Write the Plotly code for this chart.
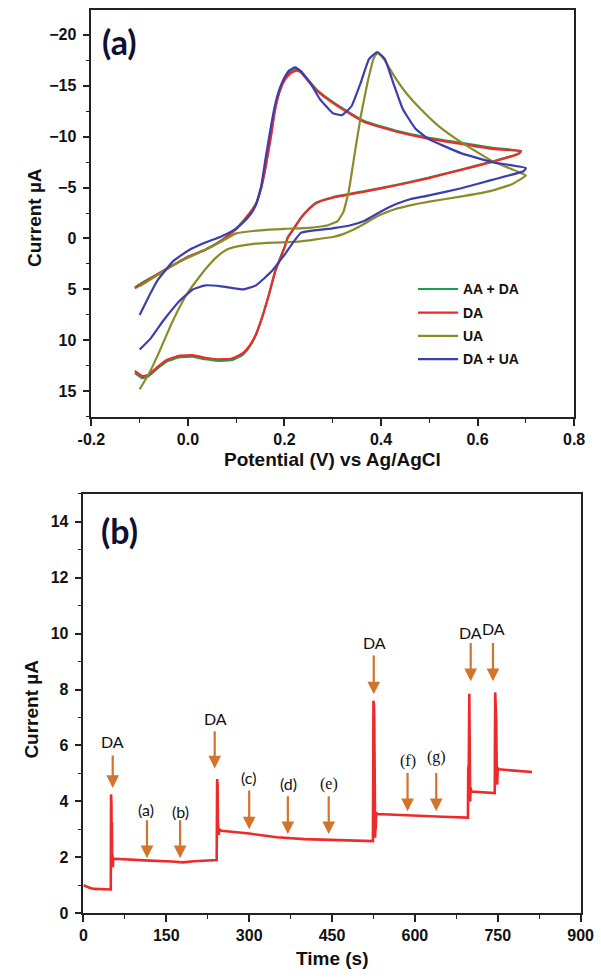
import plotly.graph_objects as go

# ---------------- Panel (a): cyclic voltammograms ----------------
aada_v = [-0.11, -0.09, -0.063, -0.03, 0.0, 0.036, 0.069, 0.10, 0.115, 0.13, 0.141, 0.152, 0.161, 0.172, 0.18, 0.19, 0.20, 0.21, 0.22, 0.228, 0.234, 0.25, 0.267, 0.30, 0.333, 0.366, 0.43, 0.497, 0.564, 0.63, 0.69,
          0.685, 0.63, 0.564, 0.497, 0.43, 0.366, 0.30, 0.267, 0.247, 0.234, 0.22, 0.207, 0.20, 0.19, 0.181, 0.168, 0.154, 0.141, 0.128, 0.115, 0.10, 0.089, 0.062, 0.036, 0.01, -0.017, -0.043, -0.063, -0.083, -0.095, -0.11]
aada_i = [4.8, 4.2, 3.5, 2.6, 1.8, 1.1, 0.2, -0.95, -1.75, -2.6, -3.4, -5.0, -7.1, -10.1, -12.6, -14.5, -15.7, -16.3, -16.6, -16.6, -16.4, -15.5, -14.6, -13.4, -12.4, -11.5, -10.6, -9.9, -9.4, -8.9, -8.6,
          -8.35, -7.55, -6.75, -5.95, -5.25, -4.65, -4.05, -3.55, -2.75, -2.05, -1.05, -0.15, 0.85, 2.05, 3.15, 5.45, 7.7, 9.45, 10.6, 11.35, 11.75, 11.95, 12.0, 11.85, 11.6, 11.65, 12.05, 12.75, 13.55, 13.7, 13.2]

da_v = [-0.11, -0.09, -0.063, -0.03, 0.0, 0.036, 0.069, 0.10, 0.115, 0.13, 0.141, 0.152, 0.161, 0.172, 0.18, 0.19, 0.20, 0.21, 0.22, 0.228, 0.234, 0.25, 0.267, 0.30, 0.333, 0.366, 0.43, 0.497, 0.564, 0.63, 0.69,
        0.685, 0.63, 0.564, 0.497, 0.43, 0.366, 0.30, 0.267, 0.247, 0.234, 0.22, 0.207, 0.20, 0.19, 0.181, 0.168, 0.154, 0.141, 0.128, 0.115, 0.10, 0.089, 0.062, 0.036, 0.01, -0.017, -0.043, -0.063, -0.083, -0.095, -0.11]
da_i = [4.9, 4.3, 3.5, 2.6, 1.8, 1.1, 0.25, -0.9, -1.7, -2.6, -3.4, -5.0, -7.0, -10.0, -12.5, -14.4, -15.5, -16.1, -16.4, -16.45, -16.3, -15.4, -14.5, -13.3, -12.3, -11.4, -10.5, -9.8, -9.3, -8.8, -8.55,
        -8.3, -7.5, -6.7, -5.9, -5.2, -4.6, -4.0, -3.5, -2.7, -2.0, -1.0, -0.1, 0.9, 2.1, 3.2, 5.5, 7.7, 9.4, 10.5, 11.2, 11.6, 11.8, 11.85, 11.7, 11.45, 11.5, 11.9, 12.6, 13.4, 13.5, 13.0]

ua_v = [-0.10, -0.063, -0.03, 0.0, 0.036, 0.069, 0.10, 0.15, 0.20, 0.25, 0.29, 0.31, 0.322, 0.333, 0.346, 0.358, 0.372, 0.385, 0.392, 0.40, 0.41, 0.425, 0.45, 0.48, 0.52, 0.564, 0.63, 0.70,
        0.695, 0.67, 0.63, 0.564, 0.497, 0.46, 0.43, 0.40, 0.38, 0.36, 0.34, 0.32, 0.30, 0.27, 0.23, 0.18, 0.14, 0.10, 0.08, 0.06, 0.04, 0.02, 0.0, -0.02, -0.04, -0.06, -0.08, -0.10]
ua_i = [4.7, 3.6, 2.6, 1.9, 1.1, 0.3, -0.5, -0.8, -0.95, -1.05, -1.3, -1.7, -2.6, -4.6, -8.5, -12.0, -15.3, -17.7, -18.2, -17.95, -17.3, -16.1, -14.4, -12.8, -11.0, -9.5, -7.6, -6.2,
        -6.0, -5.3, -4.7, -4.1, -3.6, -3.25, -2.9, -2.35, -1.85, -1.3, -0.8, -0.4, -0.15, 0.05, 0.3, 0.4, 0.5, 0.8, 1.1, 1.8, 2.8, 4.0, 5.3, 7.0, 9.0, 11.2, 13.2, 14.8]

daua_v = [-0.10, -0.08, -0.063, -0.03, 0.0, 0.036, 0.069, 0.10, 0.115, 0.13, 0.141, 0.152, 0.161, 0.172, 0.18, 0.19, 0.20, 0.21, 0.222, 0.234, 0.253, 0.273, 0.30, 0.319, 0.339, 0.358, 0.375, 0.392, 0.408, 0.425, 0.445, 0.471, 0.497, 0.564, 0.63, 0.70,
          0.695, 0.63, 0.564, 0.497, 0.46, 0.43, 0.40, 0.366, 0.333, 0.30, 0.234, 0.20, 0.174, 0.141, 0.115, 0.09, 0.069, 0.036, 0.01, -0.017, -0.05, -0.077, -0.10]
daua_i = [7.5, 5.6, 4.1, 2.2, 1.2, 0.4, -0.2, -1.0, -1.6, -2.4, -3.3, -5.2, -7.9, -11.0, -13.0, -14.7, -15.8, -16.5, -16.8, -16.4, -15.3, -13.7, -12.3, -12.1, -13.0, -15.3, -17.6, -18.3, -17.6, -15.3, -12.7, -10.8, -9.8, -8.4, -7.5, -6.9,
          -6.6, -5.75, -4.9, -4.2, -3.85, -3.35, -2.65, -1.75, -1.25, -1.0, -0.55, 1.6, 3.2, 4.6, 5.0, 4.85, 4.7, 4.6, 5.0, 6.1, 8.0, 9.8, 10.9]

cv_names = ["AA + DA", "DA", "UA", "DA + UA"]
cv_colors = ["#1a9e52", "#ee2a2a", "#8a8c2a", "#3b3fae"]

# ---------------- Panel (b): amperometric response ----------------
time_s = [0, 5, 12, 20, 30, 40, 49.5, 50, 50.7, 51, 51.5, 52, 52.6, 53.2, 54, 56, 80, 120, 160, 180, 200, 240,
          241.2, 242, 242.8, 243.4, 244, 245, 246, 250, 300, 350, 400, 450, 500, 524,
          525, 525.8, 526.4, 527, 527.5, 528, 528.5, 529, 530, 532, 560, 600, 650, 695,
          696, 696.5, 697.5, 698.5, 699.3, 700, 701, 702, 720, 744.5,
          745.3, 746.3, 747.2, 748, 749, 750, 752, 780, 812]
current_ua = [1.0, 0.95, 0.9, 0.87, 0.86, 0.85, 0.85, 4.25, 3.9, 2.6, 3.25, 1.75, 2.1, 1.65, 1.95, 1.95, 1.92, 1.88, 1.85, 1.82, 1.86, 1.88,
              1.9, 4.8, 4.6, 3.3, 3.1, 2.8, 3.0, 2.95, 2.85, 2.72, 2.65, 2.62, 2.6, 2.58,
              7.6, 7.5, 7.1, 6.0, 3.2, 2.7, 3.5, 3.0, 3.6, 3.55, 3.52, 3.48, 3.45, 3.42,
              3.42, 5.2, 5.3, 7.85, 6.2, 4.0, 4.5, 4.35, 4.32, 4.3,
              7.9, 7.2, 6.9, 5.3, 4.6, 5.2, 5.15, 5.1, 5.05]

# markers of additions: label, time of arrow, tail current, head current, label current
add_labels = ["DA", "(a)", "(b)", "DA", "(c)", "(d)", "(e)", "DA", "(f)", "(g)", "DA", "DA"]
add_time = [53, 115, 175, 237.6, 300, 370, 444, 525.5, 586.7, 638.6, 701, 741.3]
add_tail = [5.7, 3.38, 3.38, 6.56, 4.44, 4.24, 4.24, 9.27, 5.07, 5.07, 9.72, 9.72]
add_head = [4.48, 1.97, 1.97, 5.18, 3.0, 2.83, 2.83, 7.83, 3.65, 3.65, 8.3, 8.3]
add_text_y = [6.15, 3.72, 3.65, 6.98, 4.86, 4.65, 4.62, 9.7, 5.45, 5.6, 10.05, 10.2]
add_text_t = [53, 114, 176, 238.5, 298, 371, 444, 526, 586.7, 638.6, 701, 742.5]
serif_labels = ["(e)", "(f)", "(g)"]

W, H = 601, 978
def PX(px):
    return px / W
def PY(py):
    return 1 - py / H

fig = go.Figure()

cv_v = [aada_v, da_v, ua_v, daua_v]
cv_i = [aada_i, da_i, ua_i, daua_i]
for name, col, v, i in zip(cv_names, cv_colors, cv_v, cv_i):
    fig.add_trace(go.Scatter(x=v, y=i, mode="lines", name=name,
                             line=dict(color=col, width=2.2, shape="spline", smoothing=0.35),
                             xaxis="x", yaxis="y", showlegend=False))

fig.add_trace(go.Scatter(x=time_s, y=current_ua, mode="lines",
                         line=dict(color="#ee2a2a", width=2.6),
                         xaxis="x2", yaxis="y2", showlegend=False))

tickfont = dict(family="Liberation Sans, Arial", size=16, color="#111", weight="bold")
axis_common = dict(showline=True, linecolor="#222", linewidth=1.6, mirror=True,
                   ticks="outside", ticklen=7, tickwidth=1.5, tickcolor="#222",
                   showgrid=False, zeroline=False, tickfont=tickfont)

fig.update_layout(
    width=W, height=H, margin=dict(l=0, r=0, t=0, b=0),
    paper_bgcolor="white", plot_bgcolor="white",
    xaxis=dict(domain=[PX(81), PX(586.5)], range=[-0.2, 0.8], anchor="y",
               tickvals=[-0.2, 0.0, 0.2, 0.4, 0.6, 0.8], ticktext=["-0.2", "0.0", "0.2", "0.4", "0.6", "0.8"],
               minor=dict(dtick=0.1, tick0=-0.2, ticks="outside", ticklen=4, tickwidth=1.3, tickcolor="#222"),
               ticklabelstandoff=0, **axis_common),
    yaxis=dict(domain=[PY(421), PY(10)], range=[17.53, -22.43], anchor="x",
               tickvals=[-20, -15, -10, -5, 0, 5, 10, 15],
               minor=dict(dtick=2.5, tick0=0, ticks="outside", ticklen=4, tickwidth=1.3, tickcolor="#222"),
               ticklabelstandoff=3, **axis_common),
    xaxis2=dict(domain=[PX(72.7), PX(593.3)], range=[0, 900], anchor="y2",
                tickvals=[0, 150, 300, 450, 600, 750, 900],
                minor=dict(dtick=75, tick0=0, ticks="outside", ticklen=4, tickwidth=1.3, tickcolor="#222"),
                ticklabelstandoff=0, **axis_common),
    yaxis2=dict(domain=[PY(921.7), PY(498.5)], range=[0, 15], anchor="x2",
                tickvals=[0, 2, 4, 6, 8, 10, 12, 14],
                minor=dict(dtick=1, tick0=0, ticks="outside", ticklen=4, tickwidth=1.3, tickcolor="#222"),
                ticklabelstandoff=3, **axis_common),
)

ann = []
title_font = dict(family="Liberation Sans, Arial", size=19, color="#111", weight="bold")
ann.append(dict(x=PX(333), y=PY(464), xref="paper", yref="paper", text="Potential (V) vs Ag/AgCl",
                showarrow=False, font=title_font, xanchor="center", yanchor="middle"))
ann.append(dict(x=PX(22), y=PY(220), xref="paper", yref="paper", text="Current µA", textangle=-90,
                showarrow=False, font=title_font, xanchor="center", yanchor="middle"))
ann.append(dict(x=PX(333), y=PY(967), xref="paper", yref="paper", text="Time (s)",
                showarrow=False, font=title_font, xanchor="center", yanchor="middle"))
ann.append(dict(x=PX(18), y=PY(716), xref="paper", yref="paper", text="Current µA", textangle=-90,
                showarrow=False, font=title_font, xanchor="center", yanchor="middle"))

panel_font = dict(family="Lato, Open Sans", size=34, color="#0f1030", weight="bold")
ann.append(dict(x=PX(110), y=PY(42), xref="paper", yref="paper", text="(a)", showarrow=False,
                font=panel_font, xanchor="center", yanchor="middle"))
ann.append(dict(x=PX(110), y=PY(535), xref="paper", yref="paper", text="(b)", showarrow=False,
                font=panel_font, xanchor="center", yanchor="middle"))

# manual legend
leg_rows = [291.7, 315.5, 339, 362.5]
shapes = []
leg_font = dict(family="Liberation Sans, Arial", size=14, color="#111", weight="bold")
for name, col, ry in zip(cv_names, cv_colors, leg_rows):
    shapes.append(dict(type="line", xref="paper", yref="paper", x0=PX(423), x1=PX(465),
                       y0=PY(ry), y1=PY(ry), line=dict(color=col, width=2.2)))
    ann.append(dict(x=PX(468), y=PY(ry), xref="paper", yref="paper", text=name, showarrow=False,
                    font=leg_font, xanchor="left", yanchor="middle"))

# addition arrows in panel (b)
arrow_col = "#d2742c"
for lab, t, ty, yt, yh, yl in zip(add_labels, add_time, add_text_t, add_tail, add_head, add_text_y):
    ann.append(dict(x=t, y=yh, ax=t, ay=yt, xref="x2", yref="y2", axref="x2", ayref="y2",
                    text="", showarrow=True, arrowhead=2, arrowsize=1.15, arrowwidth=2.2,
                    arrowcolor=arrow_col, standoff=0, startstandoff=0))
    fam = "Liberation Serif, serif" if lab in serif_labels else "Lato, Open Sans"
    ann.append(dict(x=ty, y=yl, xref="x2", yref="y2", text=lab, showarrow=False,
                    font=dict(family=fam, size=16, color="#111"), xanchor="center", yanchor="middle"))

fig.update_layout(annotations=ann, shapes=shapes)
fig.write_html("out.html")
